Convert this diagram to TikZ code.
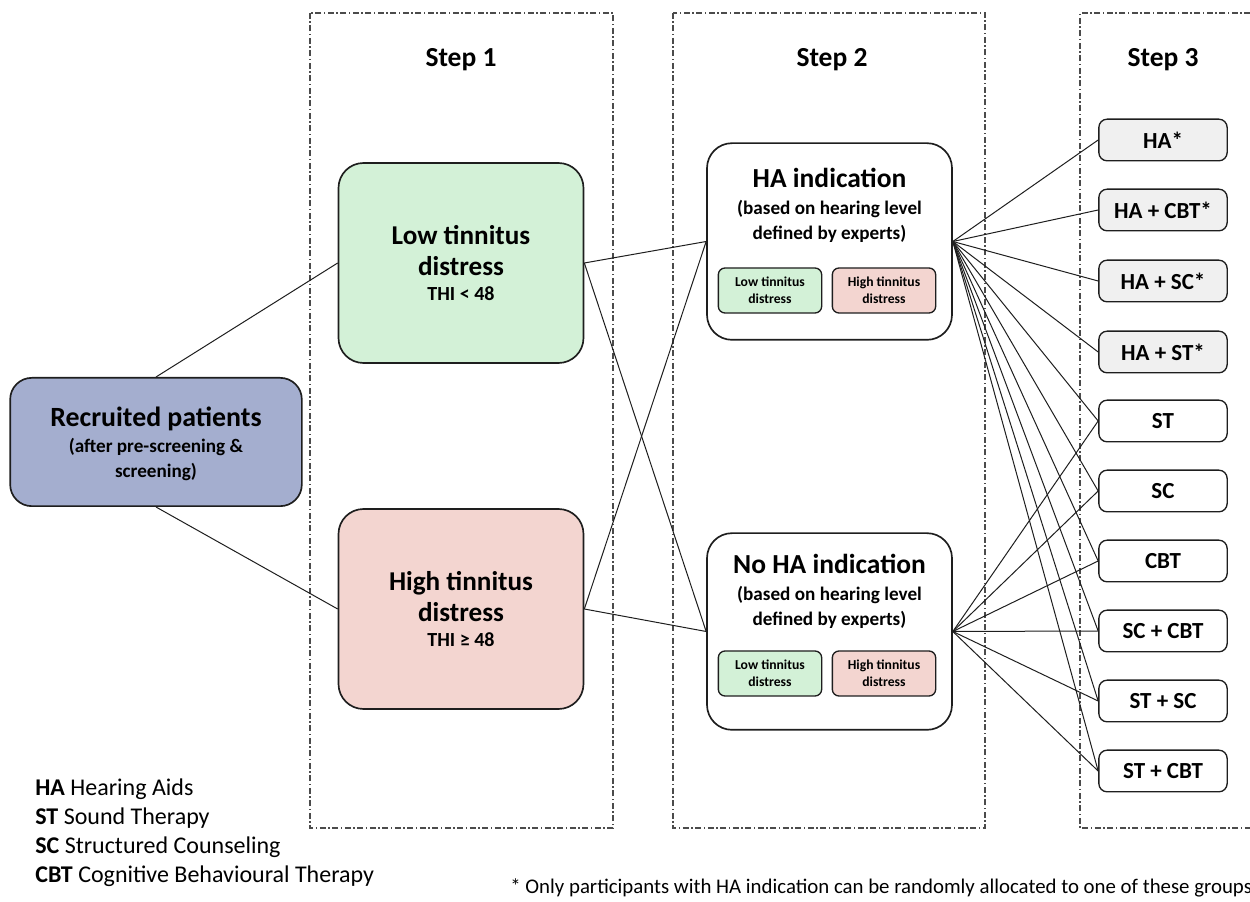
\documentclass[tikz,border=0pt]{standalone}
\usepackage{fontspec}
\setmainfont{Carlito}
\usetikzlibrary{positioning,calc}
\definecolor{lavender}{RGB}{164,174,207}
\definecolor{mint}{RGB}{211,241,215}
\definecolor{blush}{RGB}{243,213,208}
\definecolor{pale}{RGB}{240,240,240}
\definecolor{ink}{RGB}{30,30,30}
\newcommand{\smalltxt}[1]{{\fontsize{11.5}{14}\selectfont #1}}
\tikzset{
  link/.style={draw=ink,line width=0.6pt},
  stepframe/.style={draw=ink!80,line width=0.7pt,
                    dash pattern=on 3.5pt off 1.6pt on 0.8pt off 1.6pt},
  bigbox/.style={rounded corners=15pt,draw=ink,line width=1pt,align=center},
  lowbox/.style={bigbox,fill=mint,minimum width=147pt,minimum height=120pt,
                 font=\bfseries\fontsize{16.3}{18.6}\selectfont},
  highbox/.style={lowbox,fill=blush},
  indbox/.style={bigbox,fill=white,minimum width=147pt,minimum height=118pt},
  indtext/.style={align=center,inner sep=0pt,
                  font=\bfseries\fontsize{16.5}{20}\selectfont},
  tagbox/.style={rounded corners=4pt,draw=ink,line width=0.8pt,align=center,
                 minimum width=62pt,minimum height=27pt,inner sep=1pt,
                 font=\bfseries\fontsize{8.2}{10.2}\selectfont},
  armbox/.style={rounded corners=5pt,draw=ink,line width=0.8pt,fill=white,
                 minimum width=77pt,minimum height=25pt,
                 font=\bfseries\fontsize{13.8}{16}\selectfont},
  haarm/.style={armbox,fill=pale},
  steplabel/.style={font=\bfseries\fontsize{16.5}{19}\selectfont}
}
\begin{document}
\begin{tikzpicture}[x=0.6pt,y=-0.6pt]
  \useasboundingbox (0,0) rectangle (1250,902);
  % step frames
  \draw[stepframe] (310,13) rectangle (613,828);
  \draw[stepframe] (673,13) rectangle (985,828);
  \draw[stepframe] (1250,13) -- (1080,13) -- (1080,828) -- (1250,828);
  \node[steplabel] (s1) at (461,60) {Step 1};
  \node[steplabel] (s2) at (832,60) {Step 2};
  \node[steplabel] (s3) at (1163,60) {Step 3};

  % step 1
  \node[bigbox,rounded corners=13pt,fill=lavender,minimum width=175pt,
    minimum height=77pt,font=\bfseries\fontsize{16.7}{20}\selectfont]
    (rec) at (156,442)
    {\rule{0pt}{14pt}Recruited patients\\[-4.4pt]
     \smalltxt{(after pre-screening \&}\\[-5pt]
     \smalltxt{screening)}};
  \node[lowbox] (low) at (461,263)
    {Low tinnitus\\distress\\[-3.6pt]
     {\fontsize{12}{14}\selectfont THI < 48}};
  \node[highbox] (high) at (461,609)
    {High tinnitus\\distress\\[-3.6pt]
     {\fontsize{12}{14}\selectfont THI ≥ 48}};

  % step 2
  \node[indbox] (haind) at (829.5,241.5) {};
  \node[indtext] (haindtxt) at ($(haind.north)+(0,63)$)
    {HA indication\\[-3.8pt]
     \smalltxt{(based on hearing level}\\[-5pt]
     \smalltxt{defined by experts)}};
  \node[tagbox,fill=mint] (halow) at (770,290.5) {Low tinnitus\\distress};
  \node[tagbox,fill=blush] (hahigh) at (884,290.5) {High tinnitus\\distress};

  \node[indbox] (noha) at (829.5,631.5) {};
  \node[indtext] (nohatxt) at ($(noha.north)+(0,59)$)
    {No HA indication\\[-3.8pt]
     \smalltxt{(based on hearing level}\\[-5pt]
     \smalltxt{defined by experts)}};
  \node[tagbox,fill=mint] (nolow) at (770,673.5) {Low tinnitus\\distress};
  \node[tagbox,fill=blush] (nohigh) at (884,673.5) {High tinnitus\\distress};

  % step 3
  \node[haarm] (ha) at (1163,140) {HA*};
  \node[haarm] (hacbt) at (1163,210) {HA + CBT*};
  \node[haarm] (hasc) at (1163,281) {HA + SC*};
  \node[haarm] (hast) at (1163,352) {HA + ST*};
  \node[armbox] (st) at (1163,421) {ST};
  \node[armbox] (sc) at (1163,491) {SC};
  \node[armbox] (cbt) at (1163,561) {CBT};
  \node[armbox] (sccbt) at (1163,631) {SC + CBT};
  \node[armbox] (stsc) at (1163,701) {ST + SC};
  \node[armbox] (stcbt) at (1163,771) {ST + CBT};

  % connectors
  \draw[link] (rec.north) -- (low.west);
  \draw[link] (rec.south) -- (high.west);
  \draw[link] (low.east) -- (haind.west);
  \draw[link] (low.east) -- (noha.west);
  \draw[link] (high.east) -- (haind.west);
  \draw[link] (high.east) -- (noha.west);
  \foreach \arm in {ha,hacbt,hasc,hast,st,sc,cbt,sccbt,stsc,stcbt}
    \draw[link] (haind.east) -- (\arm.west);
  \foreach \arm in {st,sc,cbt,sccbt,stsc,stcbt}
    \draw[link] (noha.east) -- (\arm.west);

  % legend and note
  \node[anchor=base west,align=left,inner sep=0pt,
    font=\fontsize{14.4}{17.6}\selectfont] (legend) at (35,883)
    {\textbf{HA} Hearing Aids\\
     \textbf{ST} Sound Therapy\\
     \textbf{SC} Structured Counseling\\
     \textbf{CBT} Cognitive Behavioural Therapy};
  \node[anchor=base west,inner sep=0pt,font=\fontsize{12.5}{14}\selectfont]
    (note) at (510,894)
    {* Only participants with HA indication can be randomly allocated to one of these groups};
\end{tikzpicture}
\end{document}
